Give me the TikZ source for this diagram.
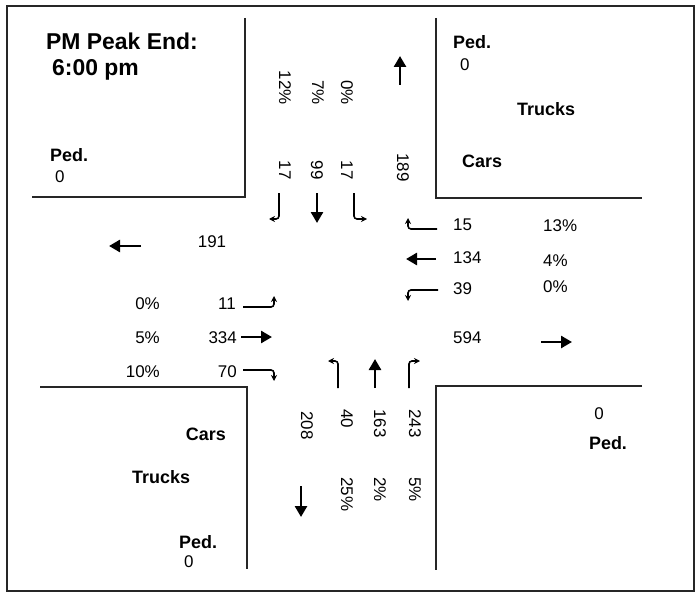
\documentclass[tikz,border=0pt]{standalone}
\usepackage{fontspec}
\setmainfont{Liberation Sans}
\usetikzlibrary{arrows.meta}
\begin{document}
\begin{tikzpicture}[
  x=1bp, y=-1bp,
  curb/.style={line width=1.8bp, draw=black!85},
  lbl/.style={inner sep=0pt, font=\fontsize{17}{20}\selectfont},
  hdr/.style={inner sep=0pt, font=\fontsize{18}{21}\selectfont\bfseries},
  vlbl/.style={lbl, rotate=-90},
  thru/.style={line width=2.6bp, -{Triangle[length=11bp,width=12bp]}},
  turn/.style={line width=1.6bp, rounded corners=3bp, -{Stealth[length=6bp,width=6bp]}}
]
\useasboundingbox (0,0) rectangle (697,594);
\draw[curb] (7,6) rectangle (694,591);

\draw[curb] (245,18) -- (245,197) -- (32,197);
\draw[curb] (436,18) -- (436,198) -- (642,198);
\draw[curb] (40,387) -- (247,387) -- (247,569);
\draw[curb] (642,386) -- (436,386) -- (436,570);

\node[inner sep=0pt, font=\fontsize{23}{26}\selectfont\bfseries, anchor=west] (title) at (46,41) {PM Peak End:};
\node[inner sep=0pt, font=\fontsize{23}{26}\selectfont\bfseries, anchor=west] (time) at (52,70) {6:00 pm};

\node[hdr, anchor=west] (pednw) at (50,155) {Ped.};
\node[lbl, anchor=west] (pednwval) at (55,177) {0};
\node[hdr, anchor=west] (pedne) at (453,42) {Ped.};
\node[lbl, anchor=west] (pedneval) at (460,65) {0};
\node[hdr, anchor=west] (trucksne) at (517,109) {Trucks};
\node[hdr, anchor=west] (carsne) at (462,161) {Cars};
\node[hdr, anchor=east] (carssw) at (226,434) {Cars};
\node[hdr, anchor=west] (truckssw) at (132,477) {Trucks};
\node[hdr, anchor=west] (pedsw) at (179,542) {Ped.};
\node[lbl, anchor=west] (pedswval) at (184,562) {0};
\node[lbl] (pedseval) at (599,414) {0};
\node[hdr] (pedse) at (608,443) {Ped.};

\node[vlbl, anchor=east] (sbRpct) at (285,105) {12\%};
\node[vlbl, anchor=east] (sbTpct) at (318,105) {7\%};
\node[vlbl, anchor=east] (sbLpct) at (347,105) {0\%};
\node[vlbl, anchor=east] (sbR) at (285,180) {17};
\node[vlbl, anchor=east] (sbT) at (317,180) {99};
\node[vlbl, anchor=east] (sbL) at (347,180) {17};
\node[vlbl, anchor=east] (nbOut) at (403,182) {189};

\node[lbl] (wbOut) at (212,242) {191};
\node[lbl, anchor=east] (ebLpct) at (160,304) {0\%};
\node[lbl, anchor=east] (ebTpct) at (160,338) {5\%};
\node[lbl, anchor=east] (ebRpct) at (160,372) {10\%};
\node[lbl, anchor=east] (ebL) at (236,304) {11};
\node[lbl, anchor=east] (ebT) at (237,338) {334};
\node[lbl, anchor=east] (ebR) at (237,372) {70};

\node[lbl, anchor=west] (wbR) at (453,225) {15};
\node[lbl, anchor=west] (wbT) at (453,258) {134};
\node[lbl, anchor=west] (wbL) at (453,289) {39};
\node[lbl, anchor=west] (wbRpct) at (543,226) {13\%};
\node[lbl, anchor=west] (wbTpct) at (543,261) {4\%};
\node[lbl, anchor=west] (wbLpct) at (543,287) {0\%};
\node[lbl, anchor=west] (ebOut) at (453,338) {594};

\node[vlbl, anchor=west] (sbOut) at (307,411) {208};
\node[vlbl, anchor=west] (nbL) at (347,409) {40};
\node[vlbl, anchor=west] (nbT) at (380,409) {163};
\node[vlbl, anchor=west] (nbR) at (415,409) {243};
\node[vlbl, anchor=west] (nbLpct) at (347,477) {25\%};
\node[vlbl, anchor=west] (nbTpct) at (380,477) {2\%};
\node[vlbl, anchor=west] (nbRpct) at (415,477) {5\%};

\draw[thru] (400,85) -- (400,56);
\draw[turn] (279,193) |- (269,219);
\draw[thru] (317,193) -- (317,223);
\draw[turn] (354,193) |- (367,219);

\draw[thru] (141,246) -- (109,246);
\draw[turn] (243,307) -| (274,296);
\draw[thru] (241,337) -- (272,337);
\draw[turn] (243,370) -| (274,381);

\draw[turn] (437,229) -| (408,218);
\draw[thru] (436,259) -- (406,259);
\draw[turn] (438,290) -| (408,301);
\draw[thru] (541,342) -- (572,342);

\draw[turn] (338,388) |- (328,361);
\draw[thru] (375,388) -- (375,359);
\draw[turn] (409,388) |- (420,361);
\draw[thru] (301,486) -- (301,517);
\end{tikzpicture}
\end{document}
